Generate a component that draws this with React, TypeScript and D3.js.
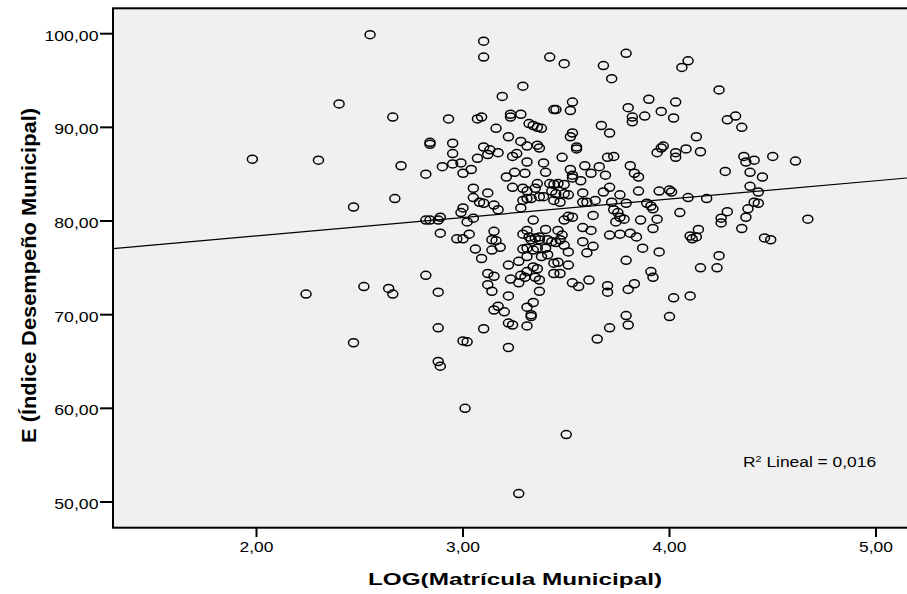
import React from 'react';
import * as d3 from 'd3';

// LOG(Matrícula Municipal), E (Índice Desempeño Municipal)
const municipios: [number, number][] = [
  [1.98,86.6],[2.30,86.5],[2.40,92.5],[2.55,99.9],[2.47,81.5],[2.24,72.2],[2.47,67.0],[2.52,73.0],
  [2.64,72.8],[2.66,72.2],[2.66,91.1],[2.67,82.4],[2.70,85.9],[2.82,85.0],[2.84,88.4],[2.84,88.2],
  [2.82,80.1],[2.84,80.1],[2.82,74.2],[2.88,72.4],[2.88,68.6],[2.88,65.0],[2.89,64.5],[2.93,90.9],
  [2.95,88.3],[2.95,87.2],[2.90,85.8],[2.95,86.1],[2.99,86.2],[3.00,85.1],[3.04,85.5],
  [3.10,99.2],[3.10,97.5],[3.42,97.5],[3.49,96.8],[3.68,96.6],[3.79,97.9],[3.72,95.2],[3.29,94.4],
  [3.19,93.3],[3.53,92.7],[3.52,91.8],[3.44,91.9],[3.45,91.9],[3.90,93.0],[3.80,92.1],[3.96,91.7],
  [3.88,91.2],[3.82,91.1],[3.82,90.6],[3.07,90.9],[3.09,91.1],[3.23,91.4],[3.23,91.1],[3.28,91.4],
  [3.16,89.9],[3.32,90.4],[3.34,90.2],[3.36,90.0],[3.38,89.9],[3.53,89.4],[3.52,89.0],[3.67,90.2],
  [3.71,89.4],[3.22,89.0],[3.28,88.5],[3.31,88.0],[3.36,88.1],[3.37,87.8],[3.55,87.9],[3.55,87.7],
  [3.10,87.9],[3.13,87.6],[3.12,87.1],[3.17,87.3],[3.07,86.7],[3.24,86.9],[3.26,87.2],[3.48,86.8],
  [3.70,86.8],[3.73,86.9],[3.94,87.3],[3.96,87.8],[3.97,88.0],
  [4.09,97.1],[4.06,96.4],[4.24,94.0],[4.03,92.7],[4.02,91.0],[4.28,90.8],[4.32,91.2],[4.35,90.0],
  [4.13,89.0],[4.08,87.7],[4.15,87.4],[4.03,87.3],[4.03,86.8],[4.27,85.3],[4.36,86.9],[4.37,86.3],
  [4.41,86.5],[4.50,86.9],[4.61,86.4],[4.39,85.2],[4.45,84.7],[4.39,83.7],[4.43,83.1],[4.09,82.5],
  [4.18,82.4],
  [3.21,84.7],[3.25,85.2],[3.30,85.1],[3.31,86.3],[3.39,86.2],[3.40,85.2],[3.36,84.0],[3.35,83.5],
  [3.24,83.6],[3.29,83.5],[3.31,83.2],[3.42,84.0],[3.44,83.9],[3.46,84.0],[3.49,83.9],[3.43,83.2],
  [3.45,82.9],[3.49,82.9],[3.51,82.8],[3.52,85.5],[3.53,84.9],[3.53,84.6],[3.57,84.3],[3.59,85.9],
  [3.62,85.1],[3.66,85.8],[3.69,84.9],[3.81,85.9],[3.83,85.1],[3.85,84.7],[3.71,83.6],[3.76,82.8],
  [3.68,83.1],[3.58,83.0],[3.85,83.2],[3.95,83.2],[4.00,83.3],[4.01,83.1],
  [3.05,83.5],[3.12,83.0],[3.05,82.5],[3.08,82.0],[3.10,81.9],[3.15,81.7],[3.17,81.2],[3.00,81.4],
  [2.99,80.9],[2.89,80.4],[2.88,80.1],[3.02,79.9],[3.05,80.3],
  [3.29,82.2],[3.31,82.4],[3.33,82.4],[3.37,82.6],[3.39,82.6],[3.28,81.4],[3.44,82.2],[3.47,82.0],
  [3.34,80.1],[3.49,80.1],[3.51,80.5],[3.53,80.4],[3.58,82.0],[3.60,82.0],[3.64,82.2],[3.63,80.6],
  [3.72,82.0],[3.73,81.2],[3.75,80.9],[3.76,80.4],[3.78,80.2],[3.74,79.9],[3.79,81.9],[3.86,80.1],
  [3.89,81.9],[3.91,81.6],[3.92,81.3],[3.94,80.2],[3.92,79.2],
  [2.89,78.7],[2.97,78.1],[3.00,78.1],[3.03,78.6],[3.06,77.0],[3.09,76.0],[3.15,78.9],[3.14,78.0],
  [3.16,77.9],[3.14,76.9],[3.18,77.2],
  [3.29,78.6],[3.31,79.0],[3.32,78.3],[3.33,78.0],[3.35,78.2],[3.37,78.0],[3.37,78.3],[3.40,79.1],
  [3.41,78.0],[3.43,77.8],[3.45,77.7],[3.46,79.0],[3.47,78.0],[3.48,78.5],[3.49,77.4],
  [3.29,77.0],[3.31,77.1],[3.34,76.9],[3.36,77.1],[3.38,76.2],[3.40,77.1],[3.41,76.4],[3.44,75.5],
  [3.46,75.6],[3.51,76.7],[3.58,79.3],[3.62,79.0],[3.58,77.8],[3.63,77.3],[3.60,76.6],
  [3.71,78.5],[3.76,78.6],[3.81,78.7],[3.84,78.3],[3.87,77.1],[3.79,75.8],
  [3.22,75.3],[3.27,75.7],[3.31,76.2],[3.12,74.4],[3.15,74.1],[3.12,73.2],[3.14,72.5],[3.23,73.8],
  [3.28,74.2],[3.30,74.0],[3.31,74.6],[3.34,75.1],[3.36,74.9],[3.35,74.0],[3.37,73.7],[3.27,73.4],
  [3.37,72.5],[3.44,74.4],[3.47,74.4],[3.51,75.3],[3.53,73.4],[3.56,73.0],[3.61,73.7],[3.70,73.1],
  [3.70,72.4],[3.80,72.7],[3.83,73.3],[3.91,74.6],[3.92,74.0],[3.95,76.7],
  [3.22,72.0],[3.34,71.3],[3.31,70.8],[3.17,70.9],[3.15,70.5],[3.20,70.3],[3.33,70.0],[3.33,69.8],
  [3.22,69.1],[3.24,68.9],[3.31,68.8],[3.10,68.5],[3.00,67.2],[3.02,67.1],[3.22,66.5],[3.65,67.4],
  [3.71,68.6],[3.79,69.9],[3.80,68.9],
  [3.01,60.0],[3.27,50.9],[3.50,57.2],
  [4.00,69.8],[4.02,71.8],[4.10,72.0],[4.15,75.0],[4.23,75.0],[4.24,76.3],[4.25,79.8],[4.25,80.3],
  [4.28,81.0],[4.35,79.2],[4.37,80.4],[4.41,82.0],[4.46,78.2],[4.49,78.0],[4.67,80.2],[4.10,78.4],
  [4.11,78.1],[4.13,78.3],[4.14,79.1],[4.05,80.9],[4.38,81.3],[4.43,81.9],
];

const xTicks = [2, 3, 4, 5];
const yTicks = [50, 60, 70, 80, 90, 100];
const fitIntercept = 74.5;
const fitSlope = 1.96;
const rSquaredLabel = ['R', '2', ' Lineal = 0,016'];
const xTitle = 'LOG(Matrícula Municipal)';
const yTitle = 'E (Índice Desempeño Municipal)';

const W = 907, H = 594;
const plotL = 113, plotT = 8.3, plotR = 910, plotB = 527.7;
const FONT = '"Liberation Sans", Arial, sans-serif';
const fmt = (v: number) => d3.format('.2f')(v).replace('.', ',');

export default function App() {
  const x = d3.scaleLinear().domain([2, 5]).range([256.5, 876]);
  const y = d3.scaleLinear().domain([50, 100]).range([502, 33.7]);
  const x0 = x.invert(plotL), x1 = x.invert(W);
  const fitLine = d3.line<number>().x((d) => x(d)).y((d) => y(fitIntercept + fitSlope * d))([x0, x1]) || '';

  return (
    <svg width={W} height={H} style={{ position: 'absolute', left: 0, top: 0, background: '#fff' }}>
      <defs>
        <clipPath id="plotclip">
          <rect x={plotL} y={plotT} width={plotR - plotL} height={plotB - plotT} />
        </clipPath>
      </defs>
      <rect x={plotL} y={plotT} width={plotR - plotL} height={plotB - plotT} fill="#f0f0f0" />
      <g clipPath="url(#plotclip)">
        {municipios.map((d, i) => (
          <ellipse key={i} cx={x(d[0])} cy={y(d[1])} rx={5} ry={4} fill="none" stroke="#000" strokeWidth={1.5} />
        ))}
        <path d={fitLine} fill="none" stroke="#000" strokeWidth={1.2} />
      </g>
      {/* frame */}
      <rect x={plotL} y={plotT} width={plotR - plotL} height={plotB - plotT} fill="none" stroke="#000" strokeWidth={2} />
      {/* y ticks */}
      {yTicks.map((t) => (
        <g key={'y' + t}>
          <line x1={100} x2={plotL} y1={y(t)} y2={y(t)} stroke="#000" strokeWidth={2} />
          <g transform={`translate(98.5,${y(t) + 7}) scale(1.22,1)`}>
            <text textAnchor="end" fontFamily={FONT} fontSize={14.5} fill="#000">{fmt(t)}</text>
          </g>
        </g>
      ))}
      {/* x ticks */}
      {xTicks.map((t) => (
        <g key={'x' + t}>
          <line x1={x(t)} x2={x(t)} y1={plotB} y2={537} stroke="#000" strokeWidth={2} />
          <g transform={`translate(${x(t)},551.7) scale(1.2,1)`}>
            <text textAnchor="middle" fontFamily={FONT} fontSize={14.5} fill="#000">{fmt(t)}</text>
          </g>
        </g>
      ))}
      {/* R2 label */}
      <g transform="translate(743,467) scale(1.2,1)">
        <text fontFamily={FONT} fontSize={14.5} fill="#000">
          {rSquaredLabel[0]}
          <tspan fontSize={9} dy={-5.5}>{rSquaredLabel[1]}</tspan>
          <tspan dy={5.5}>{rSquaredLabel[2]}</tspan>
        </text>
      </g>
      {/* axis titles */}
      <text x={515} y={585} textAnchor="middle" fontFamily={FONT} fontWeight="bold" fontSize={17}
        textLength={294} lengthAdjust="spacingAndGlyphs" fill="#000">{xTitle}</text>
      <g transform="translate(36,275.5) rotate(-90)">
        <text x={0} y={0} textAnchor="middle" fontFamily={FONT} fontWeight="bold" fontSize={20}
          textLength={335} lengthAdjust="spacingAndGlyphs" fill="#000">{yTitle}</text>
      </g>
    </svg>
  );
}
